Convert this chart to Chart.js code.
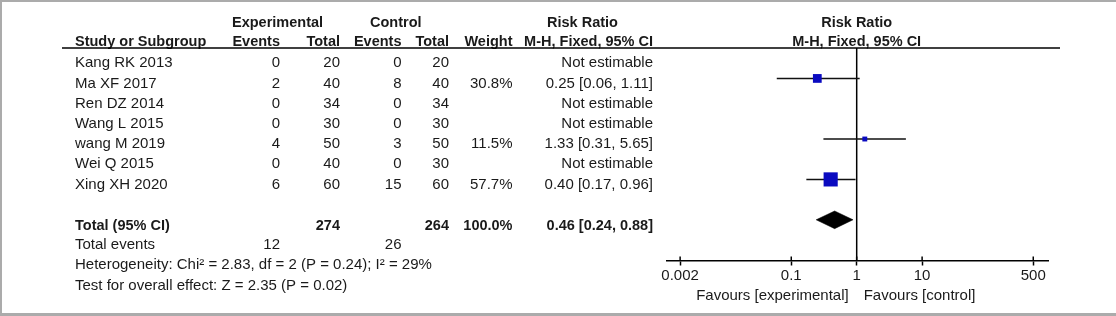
<!DOCTYPE html>
<html><head><meta charset="utf-8">
<script src="https://cdn.jsdelivr.net/npm/chart.js@4/dist/chart.umd.min.js"></script>
<style>html,body{margin:0;padding:0;background:#fff;overflow:hidden}</style>
</head><body>
<canvas id="c" width="1116" height="316"></canvas>
<script>
// ---- data ----
const studies    = ["Kang RK 2013","Ma XF 2017","Ren DZ 2014","Wang L 2015","wang M 2019","Wei Q 2015","Xing XH 2020"];
const expEvents  = [0, 2, 0, 0, 4, 0, 6];
const expTotal   = [20, 40, 34, 30, 50, 40, 60];
const ctrlEvents = [0, 8, 0, 0, 3, 0, 15];
const ctrlTotal  = [20, 40, 34, 30, 50, 30, 60];
const weights    = [null, 30.8, null, null, 11.5, null, 57.7];
const riskRatio  = [null, 0.25, null, null, 1.33, null, 0.40];
const ciLow      = [null, 0.06, null, null, 0.31, null, 0.17];
const ciHigh     = [null, 1.11, null, null, 5.65, null, 0.96];
const totalLabel = "Total (95% CI)";
const totalExp = 274, totalCtrl = 264, totalWeight = 100.0;
const totalRR = 0.46, totalLow = 0.24, totalHigh = 0.88;
const totalEventsExp = 12, totalEventsCtrl = 26;
const heterogeneityText = "Heterogeneity: Chi\u00B2 = 2.83, df = 2 (P = 0.24); I\u00B2 = 29%";
const overallText = "Test for overall effect: Z = 2.35 (P = 0.02)";
const tickValues = [0.002, 0.1, 1, 10, 500];
const tickLabels = ["0.002", "0.1", "1", "10", "500"];
const favoursLeft = "Favours [experimental]";
const favoursRight = "Favours [control]";

// ---- styles ----
const FONT = '"Liberation Sans", Arial, sans-serif';
const FS = 15;
const FSB = 14.5;
const TXT = '#1a1a1a';
const BLUE = '#0a0ac0';
const TOTAL_ROW = studies.length + 1;
const Y_MIN = -0.507, Y_MAX = 10.04;

function fmt(v){ return v.toFixed(2); }
function ciText(r,l,h){ return fmt(r) + " [" + fmt(l) + ", " + fmt(h) + "]"; }

const datasets = [];
// squares (size from weight)
datasets.push({
  data: studies.map((s,i)=> riskRatio[i]==null ? null : {x: riskRatio[i], y: i}).filter(p=>p),
  pointStyle: 'rect',
  backgroundColor: BLUE, borderWidth: 0,
  pointRadius: ctx => { const w = ctx.raw ? weights[ctx.raw.y] : 0; return (2.6 + 0.2*w)/Math.SQRT2; },
  showLine: false, order: 0
});
// pooled diamond
datasets.push({
  data: [{x:totalLow,y:TOTAL_ROW},{x:totalRR,y:TOTAL_ROW-0.437},{x:totalHigh,y:TOTAL_ROW},{x:totalRR,y:TOTAL_ROW+0.437},{x:totalLow,y:TOTAL_ROW}],
  showLine: true, borderColor: '#000', borderWidth: 0.5, backgroundColor: '#000',
  fill: 'shape', pointRadius: 0, tension: 0, order: 1
});
// CI lines
studies.forEach((s,i)=>{
  if (riskRatio[i]==null) return;
  datasets.push({
    data: [{x:ciLow[i], y:i},{x:ciHigh[i], y:i}],
    showLine: true, borderColor: '#111', borderWidth: 1.5, pointRadius: 0, order: 2
  });
});
// line of no effect
datasets.push({
  data: [{x:1,y:Y_MIN},{x:1,y:Y_MAX}],
  showLine: true, borderColor: '#000', borderWidth: 1.5, pointRadius: 0, order: 3
});

const tablePlugin = {
  id: 'table',
  afterDraw(chart){
    const ctx = chart.ctx;
    const xs = chart.scales.x, ys = chart.scales.y;
    ctx.save();
    // frame
    ctx.fillStyle = '#ababab';
    ctx.fillRect(0,0,1116,2);
    ctx.fillRect(0,0,2,316);
    ctx.fillRect(0,313,1116,3);

    function t(s,x,y,align,bold){
      ctx.font = (bold?'bold ' + FSB : FS) + 'px ' + FONT;
      ctx.textAlign = align; ctx.textBaseline = 'alphabetic';
      ctx.fillStyle = TXT;
      ctx.fillText(s,x,y);
    }
    const C = {name:75, ee:280, et:340, ce:401.5, ct:449, w:512.5, ci:653};
    // headers
    t("Experimental", 232, 26.7, 'left', true);
    t("Control", 370, 26.7, 'left', true);
    t("Risk Ratio", 582.5, 26.7, 'center', true);
    t("Study or Subgroup", C.name, 45.7, 'left', true);
    t("Events", C.ee, 45.7, 'right', true);
    t("Total", C.et, 45.7, 'right', true);
    t("Events", C.ce, 45.7, 'right', true);
    t("Total", C.ct, 45.7, 'right', true);
    t("Weight", C.w, 45.7, 'right', true);
    t("M-H, Fixed, 95% CI", C.ci, 45.7, 'right', true);
    const one = xs.getPixelForValue(1);
    t("Risk Ratio", one, 26.7, 'center', true);
    t("M-H, Fixed, 95% CI", one, 45.7, 'center', true);
    // header rule
    ctx.strokeStyle = '#000'; ctx.lineWidth = 1.5;
    ctx.beginPath(); ctx.moveTo(62, chart.chartArea.top); ctx.lineTo(1060, chart.chartArea.top); ctx.stroke();

    const rowY = k => ys.getPixelForValue(k) + 9.2;
    studies.forEach((s,i)=>{
      const y = rowY(i);
      t(s, C.name, y, 'left');
      t(String(expEvents[i]), C.ee, y, 'right');
      t(String(expTotal[i]), C.et, y, 'right');
      t(String(ctrlEvents[i]), C.ce, y, 'right');
      t(String(ctrlTotal[i]), C.ct, y, 'right');
      if (weights[i]!=null) t(weights[i].toFixed(1)+"%", C.w, y, 'right');
      t(riskRatio[i]==null ? "Not estimable" : ciText(riskRatio[i],ciLow[i],ciHigh[i]), C.ci, y, 'right');
    });
    let y = rowY(TOTAL_ROW) + 1;
    t(totalLabel, C.name, y, 'left', true);
    t(String(totalExp), C.et, y, 'right', true);
    t(String(totalCtrl), C.ct, y, 'right', true);
    t(totalWeight.toFixed(1)+"%", C.w, y, 'right', true);
    t(ciText(totalRR,totalLow,totalHigh), C.ci, y, 'right', true);
    y = rowY(TOTAL_ROW+1);
    t("Total events", C.name, y, 'left');
    t(String(totalEventsExp), C.ee, y, 'right');
    t(String(totalEventsCtrl), C.ce, y, 'right');
    t(heterogeneityText, C.name, rowY(TOTAL_ROW+2), 'left');
    t(overallText, C.name, rowY(TOTAL_ROW+3), 'left');

    // upper half of tick marks
    const b = chart.chartArea.bottom;
    ctx.strokeStyle = '#000'; ctx.lineWidth = 1.5;
    tickValues.forEach(v=>{
      const px = xs.getPixelForValue(v);
      ctx.beginPath(); ctx.moveTo(px, b); ctx.lineTo(px, b-4.5); ctx.stroke();
    });
    // favours labels
    t(favoursLeft, one - 8, 299.5, 'right');
    t(favoursRight, one + 7, 299.5, 'left');
    ctx.restore();
  }
};

new Chart(document.getElementById('c'), {
  type: 'scatter',
  data: { datasets },
  options: {
    responsive: false, animation: false, devicePixelRatio: 1,
    layout: { padding: { left: 667, right: 68, top: 48, bottom: 0 } },
    plugins: { legend: {display:false}, tooltip: {enabled:false} },
    scales: {
      x: {
        type: 'logarithmic', min: 0.00126, max: 840,
        afterBuildTicks: s => { s.ticks = tickValues.map(v=>({value:v})); },
        afterFit: s => { s.height = 55; },
        border: { display: true, color: '#000', width: 1.5 },
        grid: { display: true, drawOnChartArea: false, drawTicks: true, tickLength: 4.5, tickColor: '#000', tickWidth: 1.5 },
        ticks: {
          autoSkip: false, maxRotation: 0, padding: 1,
          color: TXT, font: { family: FONT, size: FS },
          callback: (v, i) => tickLabels[i]
        }
      },
      y: { type: 'linear', reverse: true, min: Y_MIN, max: Y_MAX, display: false }
    }
  },
  plugins: [tablePlugin]
});
</script>
</body></html>
